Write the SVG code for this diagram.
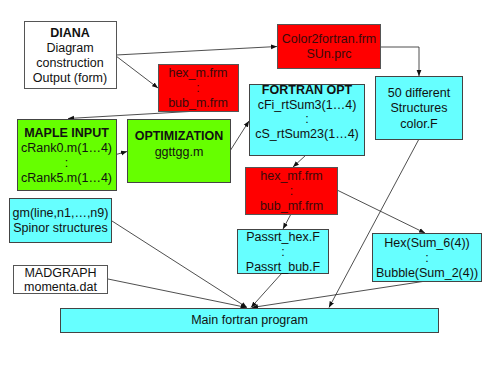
<svg xmlns="http://www.w3.org/2000/svg" width="499" height="373" viewBox="0 0 499 373">
<style>
text{font-family:"Liberation Sans",Arial,sans-serif;font-size:12.5px;text-anchor:middle;fill:#111}
.b{font-weight:bold}
.rt{fill:#3a0a0a}
.w{fill:#fff;stroke:#555;stroke-width:1}
.r{fill:#ff0000;stroke:#555;stroke-width:1}
.c{fill:#66ffff;stroke:#444;stroke-width:1}
.g{fill:#66ff00;stroke:#444;stroke-width:1}
#connectors line,#connectors path{stroke:#222;stroke-width:0.8;fill:none;marker-end:url(#ah)}
</style>
<defs>
<marker id="ah" viewBox="0 0 10 10" refX="10" refY="5" markerWidth="6" markerHeight="6" markerUnits="userSpaceOnUse" orient="auto">
<path d="M0,1 L10,5 L0,9 z" fill="#111"/>
</marker>
</defs>
<rect width="499" height="373" fill="#fff"/>
<g id="connectors">
<line x1="116" y1="55" x2="277" y2="46.5"/>
<line x1="116" y1="56" x2="158" y2="88"/>
<path d="M380,47 H419 V76"/>
<line x1="198" y1="111" x2="68" y2="118.5"/>
<line x1="116" y1="154.5" x2="127" y2="151.5"/>
<line x1="230" y1="151" x2="249" y2="121"/>
<line x1="306" y1="155" x2="293" y2="167"/>
<line x1="291" y1="214" x2="283" y2="229"/>
<line x1="337" y1="190" x2="425" y2="233"/>
<line x1="419" y1="139" x2="329" y2="307.5"/>
<line x1="112" y1="221" x2="247" y2="307.5"/>
<line x1="108" y1="279" x2="246.5" y2="307.5"/>
<line x1="282" y1="273" x2="251" y2="307.5"/>
<line x1="426" y1="281" x2="252" y2="307.5"/>
</g>
<g id="diana">
<rect class="w" x="24.5" y="21.5" width="92" height="67"/>
<text class="b" x="70" y="37">DIANA</text>
<text x="70" y="52">Diagram</text>
<text x="70" y="67">construction</text>
<text x="70" y="82">Output (form)</text>
</g>
<g id="color2fortran">
<rect class="r" x="277.5" y="24.5" width="103" height="44"/>
<text class="rt" x="329" y="43">Color2fortran.frm</text>
<text class="rt" x="329" y="58">SUn.prc</text>
</g>
<g id="hexm">
<rect class="r" x="158.5" y="64.5" width="80" height="47"/>
<text class="rt" x="198" y="77">hex_m.frm</text>
<text class="rt" x="198" y="92">:</text>
<text class="rt" x="198" y="107">bub_m.frm</text>
</g>
<g id="fifty">
<rect class="c" x="375.5" y="76.5" width="87" height="63"/>
<text x="419" y="97">50 different</text>
<text x="419" y="112">Structures</text>
<text x="419" y="128">color.F</text>
</g>
<g id="fortranopt">
<rect class="c" x="249.5" y="84.5" width="115" height="71"/>
<text class="b" x="307" y="94">FORTRAN OPT</text>
<text x="307" y="109">cFi_rtSum3(1…4)</text>
<text x="307" y="123">:</text>
<text x="307" y="138">cS_rtSum23(1…4)</text>
</g>
<g id="maple">
<rect class="g" x="17.5" y="119.5" width="99" height="71"/>
<text class="b" x="66.5" y="137">MAPLE INPUT</text>
<text x="66.5" y="152">cRank0.m(1…4)</text>
<text x="66.5" y="167">:</text>
<text x="66.5" y="182">cRank5.m(1…4)</text>
</g>
<g id="optimization">
<rect class="g" x="127.5" y="119.5" width="103" height="63"/>
<text class="b" x="179" y="140">OPTIMIZATION</text>
<text x="179" y="156">ggttgg.m</text>
</g>
<g id="hexmf">
<rect class="r" x="245.5" y="167.5" width="92" height="47"/>
<text class="rt" x="291.5" y="180">hex_mf.frm</text>
<text class="rt" x="291.5" y="195">:</text>
<text class="rt" x="291.5" y="210">bub_mf.frm</text>
</g>
<g id="gm">
<rect class="c" x="9.5" y="198.5" width="102" height="44"/>
<text x="60.5" y="217">gm(line,n1,…,n9)</text>
<text x="60.5" y="232">Spinor structures</text>
</g>
<g id="passrt">
<rect class="c" x="237.5" y="229.5" width="91" height="44"/>
<text x="283" y="241">Passrt_hex.F</text>
<text x="283" y="256">:</text>
<text x="283" y="271">Passrt_bub.F</text>
</g>
<g id="hexsum">
<rect class="c" x="372.5" y="233.5" width="109" height="48"/>
<text x="427" y="247">Hex(Sum_6(4))</text>
<text x="427" y="262">:</text>
<text x="427" y="277">Bubble(Sum_2(4))</text>
</g>
<g id="madgraph">
<rect class="w" x="13.5" y="265.5" width="94" height="28"/>
<text x="60.5" y="277">MADGRAPH</text>
<text x="60.5" y="291">momenta.dat</text>
</g>
<g id="main">
<rect class="c" x="60.5" y="308.5" width="378" height="24"/>
<text x="249.5" y="324">Main fortran program</text>
</g>
</svg>
